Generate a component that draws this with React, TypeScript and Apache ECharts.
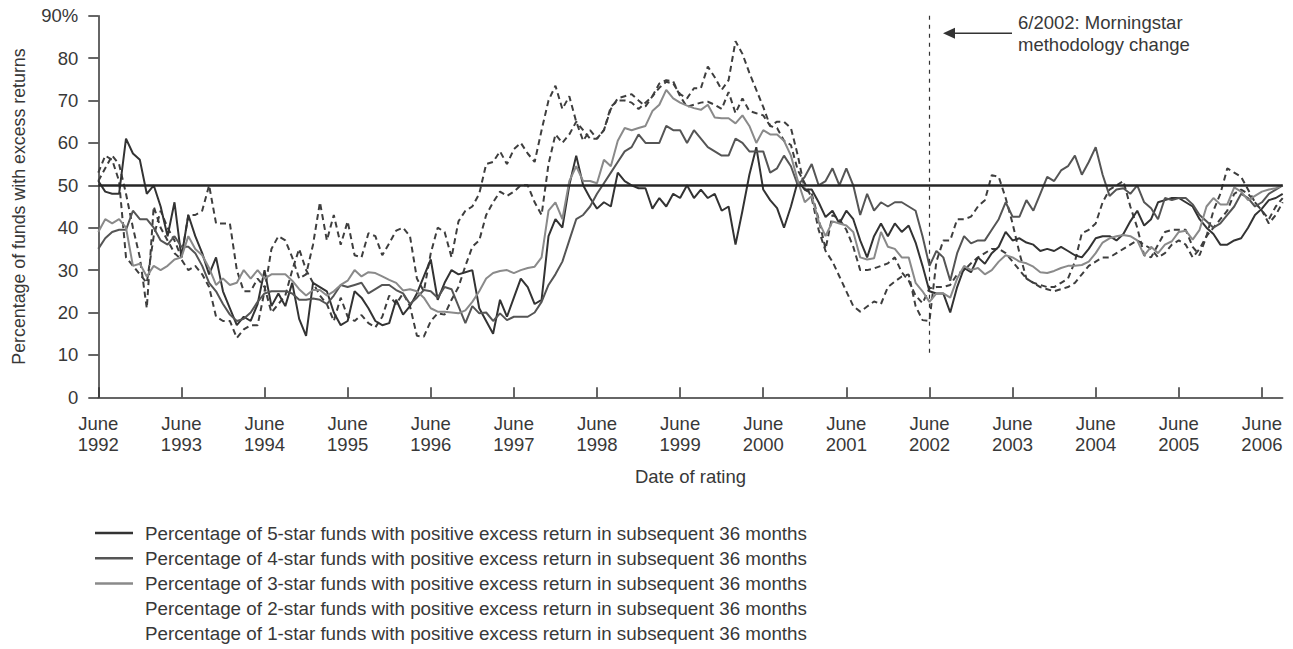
import React, { useEffect, useRef } from "react";
import * as echarts from "echarts";

const FONT = '"Liberation Sans", Arial, sans-serif';
const TEXT = "#383838";

// Monthly ratings, June 1992 .. September 2006 (172 months)
const START_YEAR = 1992;
const START_MONTH = 6;
const MONTH_COUNT = 172;
const months: string[] = Array.from({ length: MONTH_COUNT }, (_, i) => {
  const t = START_MONTH - 1 + i;
  const y = START_YEAR + Math.floor(t / 12);
  const m = (t % 12) + 1;
  return `${y}-${String(m).padStart(2, "0")}`;
});

const seriesNames = [
  "Percentage of 5-star funds with positive excess return in subsequent 36 months",
  "Percentage of 4-star funds with positive excess return in subsequent 36 months",
  "Percentage of 3-star funds with positive excess return in subsequent 36 months",
  "Percentage of 2-star funds with positive excess return in subsequent 36 months",
  "Percentage of 1-star funds with positive excess return in subsequent 36 months",
];

const fiveStar = [
  51, 48.5, 48, 48, 61, 57.5, 56, 48, 50, 45, 38, 46, 33, 43, 38, 34, 29, 33, 25, 21, 17, 19, 18, 22, 30, 21.5, 24.5, 21.5, 27, 18.5,
  14.5, 27, 26, 25, 20, 17, 18, 25, 23.5, 21, 18, 17, 17.5, 23, 19.5, 21.5, 24.5, 28.5, 32.5, 23, 27, 30, 29, 29.5, 30, 21, 18, 15, 23, 19, 23.5, 28, 26, 22,
  23, 38, 42, 40, 50, 57, 50, 47, 44.5, 46, 45, 53, 51, 50, 49.3, 49.3, 44.5, 47, 45, 48, 47, 50, 47, 49, 47, 48, 44, 45, 36, 44, 52.5, 59, 49, 46.5, 44.6,
  40, 45, 51, 49, 49, 46, 42.5, 44, 41, 44, 42, 37, 33, 38, 41, 38, 41, 39, 40.5, 36.5, 31, 25, 24.5, 24.5, 20, 26, 30.5, 29.5, 33, 31.5, 34, 35.5, 39, 37, 37.5,
  36.5, 36, 34.5, 35, 34.5, 35.5, 34.5, 33.5, 33, 35, 37.5, 38, 38, 37, 38.5, 41.5, 44, 40.5, 42, 46, 46.5, 47, 47, 46, 45, 42, 40, 38.5, 36, 36, 37, 37.5, 40, 43, 44.5, 46.5, 47, 48,
];

const fourStar = [
  35, 37.5, 39, 39.5, 39.5, 44, 42, 42, 40, 37, 36, 38, 35.5, 35.5, 34, 31, 27, 25, 22, 19.5, 18, 18.5, 20, 22.5, 24.5, 25, 25, 25, 24.5, 23,
  23, 23.3, 23, 22, 24, 26.5, 26, 26.5, 27, 24.5, 25.5, 26.5, 26.5, 25.3, 24.5, 22, 23.5, 25.3, 25, 23.5, 26, 25.5, 21.5, 17.5, 21.5, 19.8, 20, 18, 19.8, 18.2, 19, 19, 19, 20,
  22.5, 26.5, 29, 32, 37, 42, 43, 45, 48, 50.5, 53, 55.5, 58, 59, 62, 60, 60, 60, 64, 63, 63, 60, 63, 61, 59, 58, 57, 57, 61, 60, 58, 58, 58, 53, 54,
  57, 54.5, 50, 52, 55, 50, 51, 54, 50, 54, 50, 43, 48, 44, 46, 45, 46, 46, 45, 44, 38, 31, 34.5, 33, 27.5, 34, 38, 36.3, 37, 37, 39.5, 42, 46, 42.6, 42.6,
  46.5, 44, 48, 52, 51, 53.5, 54.5, 57, 52.5, 55.5, 59, 52.5, 47.5, 49, 49.3, 48, 50, 46, 44.6, 42, 47, 46.5, 47, 47, 45.5, 43, 41.5, 40, 41, 43, 45, 48, 47, 45, 46, 48, 49, 50,
];

const threeStar = [
  39, 42, 41, 42, 40, 31, 31.5, 28.5, 31, 30, 31, 32.5, 33, 38, 35, 33.5, 30.5, 26.5, 28, 26.5, 27, 30, 28, 30, 28, 29, 29, 29, 27.5, 25.5,
  24, 25.3, 25.3, 24, 25, 26.5, 27.5, 30, 28.5, 29.5, 29.3, 28.5, 27.7, 27, 25.2, 25.5, 25, 23.5, 21, 20.2, 20.2, 20, 19.8, 20.5, 22.5, 25, 28, 29.3, 29.8, 30, 29.3, 30, 30.5, 30.8,
  33, 44, 46, 42, 51, 54.5, 51, 51, 50.5, 56, 54.5, 60.5, 63.5, 63, 63.5, 64, 67.5, 69, 72.5, 70.5, 69.5, 68.8, 68.2, 67.8, 69, 66, 65.8, 65.8, 64.6, 66.5, 64, 60, 63, 62, 62,
  60.5, 57, 51, 46, 47.5, 41.5, 38, 41.5, 41, 40.5, 39, 33, 32.5, 32.8, 39, 35.5, 35, 33, 33, 27, 25, 22.5, 24.5, 24.5, 23.5, 28, 31, 30, 30.5, 29, 30, 32, 33.5, 33, 32,
  31.6, 30.8, 29.5, 29.3, 29.8, 30.5, 31, 31, 31.2, 32, 34, 36.5, 37.5, 38, 38.3, 38, 37, 33.5, 35.5, 34, 36, 36.8, 39, 39.3, 37.2, 39.5, 45, 47, 45.5, 45.5, 49.5, 48.5, 46.5, 47.5, 48.5, 49, 49.3, 50,
];

const twoStar = [
  51, 54, 57, 55, 48, 40, 33, 21, 45, 40, 37, 34, 32.5, 30, 31, 29, 26, 19, 18, 18, 14, 16, 17, 17, 25, 35, 38, 37, 33, 28,
  29, 36, 46, 37, 43, 36, 41.5, 33.5, 33, 38.7, 38, 33.5, 36.3, 39.3, 40, 38, 28, 25, 34, 40, 39, 33, 41.5, 44, 45, 48, 55, 55.5, 58, 55, 58.5, 60, 57.5, 55.5,
  63, 70, 73.5, 68, 71, 65, 60.5, 63, 61, 63, 68, 70.5, 71, 71.5, 70, 68.6, 71, 73, 74.4, 74, 71.5, 70.5, 72.9, 72.9, 78, 75.5, 72.5, 74.8, 84, 81, 76.5, 72.5, 68.5, 64, 63.5,
  60.5, 59.5, 53.5, 50.5, 47, 39.5, 34.5, 32, 28.5, 25, 21.5, 20.2, 21.4, 22.6, 22, 26, 27.3, 28.5, 29, 21.5, 18.2, 18, 32, 37, 37, 42, 42, 42.6, 45, 46.5, 52.4, 52, 47, 41, 34,
  28, 27, 26.5, 26, 26, 27, 28, 32, 38.7, 39.5, 41, 46, 49, 50, 51, 45, 40, 33.5, 33, 36, 39, 39.5, 39.5, 39.5, 35.5, 33.5, 38, 44, 48, 54, 53, 52, 49, 46, 44, 42, 45, 47,
];

const oneStar = [
  53, 57, 56, 51, 33, 31, 29, 27, 38, 44, 40, 37, 33, 43, 43, 44, 50, 41, 41, 41, 30, 25, 25, 28, 26, 20, 22, 24, 30, 35,
  30, 27, 24, 22, 18, 23.5, 19, 18, 19.4, 17.5, 16.5, 19, 24, 22, 24.5, 21.5, 14.5, 14.3, 18, 19.8, 19.5, 23, 26, 31, 35.5, 37, 43, 46, 48.5, 47.5, 48.5, 50, 50, 46,
  43, 55, 62, 60, 62, 65, 63, 61, 61, 63, 68.5, 70, 70, 69.5, 68, 69.5, 71, 74, 74.8, 74.5, 71, 68.5, 69, 69.5, 69.7, 69, 68, 72, 67, 70.5, 67.5, 67, 66.5, 64, 65,
  65, 63.5, 57, 49, 48, 42, 35, 43, 42, 39.5, 35.5, 30, 30, 30.4, 31, 31.6, 33, 29.5, 27.5, 24, 22.2, 25.7, 26, 26, 26.5, 29, 30, 31.6, 33, 34, 35, 35, 34, 32, 30,
  28, 27, 26, 25.5, 25, 25.5, 26, 27, 29, 31, 32, 33, 33, 34, 35, 36, 37, 36, 35, 33, 34, 36, 37, 36, 33, 35, 38, 40, 42, 44, 48, 49, 48, 46, 44, 41, 43, 46,
];

const yTicks = [0, 10, 20, 30, 40, 50, 60, 70, 80, 90];
const referenceLevel = 50;
const methodologyChange = "2002-06";
const annotationText = "6/2002: Morningstar\nmethodology change";

const seriesColors = ["#333333", "#555555", "#8a8a8a", "#3e3e3e", "#3e3e3e"];
const seriesData = [fiveStar, fourStar, threeStar, twoStar, oneStar];

export default function App() {
  const ref = useRef<HTMLDivElement>(null);

  useEffect(() => {
    if (!ref.current) return;
    const chart = echarts.init(ref.current, null, { renderer: "svg" });

    const isJune = (index: number) => index % 12 === 0;

    const lineSeries = seriesNames.map((name, i) => ({
      name,
      type: "line",
      data: seriesData[i],
      symbol: "none",
      showSymbol: false,
      z: i >= 3 ? 2 : 3,
      lineStyle: {
        color: seriesColors[i],
        width: 2,
        type: i >= 3 ? [6, 4] : "solid",
      },
      itemStyle: { color: seriesColors[i] },
    }));

    const option = {
      animation: false,
      backgroundColor: "#ffffff",
      textStyle: { fontFamily: FONT },
      grid: { left: 98.3, right: 10.3, top: 15.7, bottom: 251.7, containLabel: false },
      xAxis: {
        type: "category",
        data: months,
        boundaryGap: false,
        name: "Date of rating",
        nameLocation: "middle",
        nameGap: 70,
        nameTextStyle: { fontSize: 18.5, color: TEXT, fontFamily: FONT },
        axisLine: { show: true, lineStyle: { color: "#333", width: 1.5 } },
        axisTick: {
          show: true,
          inside: true,
          length: 10,
          interval: (index: number) => isJune(index),
          lineStyle: { color: "#333", width: 1.5 },
        },
        axisLabel: {
          interval: (index: number) => isJune(index),
          formatter: (v: string) => `June\n${v.slice(0, 4)}`,
          fontSize: 18.5,
          lineHeight: 21,
          color: TEXT,
          margin: 16,
          fontFamily: FONT,
        },
        splitLine: { show: false },
      },
      yAxis: {
        type: "value",
        min: yTicks[0],
        max: yTicks[yTicks.length - 1],
        interval: 10,
        name: "Percentage of funds with excess returns",
        nameLocation: "middle",
        nameRotate: 90,
        nameGap: 70,
        nameTextStyle: { fontSize: 17.8, color: TEXT, fontFamily: FONT },
        axisLine: { show: true, lineStyle: { color: "#333", width: 1.5 } },
        axisTick: { show: true, inside: false, length: 10, lineStyle: { color: "#333", width: 1.5 } },
        axisLabel: {
          formatter: (v: number) => (v === 90 ? "90%" : String(v)),
          fontSize: 18.5,
          color: TEXT,
          margin: 20,
          fontFamily: FONT,
        },
        splitLine: { show: false },
      },
      legend: {
        orient: "vertical",
        left: 95,
        top: 522.75,
        padding: 0,
        height: 126,
        itemWidth: 38,
        itemHeight: 2.5,
        itemGap: 4.7,
        selectedMode: false,
        textStyle: { fontSize: 18.8, color: TEXT, lineHeight: 20.5, fontFamily: FONT, padding: [0, 0, 0, 7] },
        data: seriesNames.map((name, i) =>
          i >= 3
            ? { name, icon: "rect", itemStyle: { color: "#ffffff", opacity: 0 } }
            : { name, icon: "rect", itemStyle: { color: seriesColors[i] } }
        ),
      },
      series: [
        ...lineSeries,
        {
          name: "reference",
          type: "line",
          data: [],
          z: 5,
          markLine: {
            silent: true,
            symbol: "none",
            label: { show: false },
            data: [
              { yAxis: referenceLevel, lineStyle: { color: "#262626", width: 2.5, type: "solid" } },
              [
                { coord: [methodologyChange, 90], lineStyle: { color: "#333", width: 1.2, type: [4, 5] } },
                { coord: [methodologyChange, 10.4] },
              ],
            ],
          },
        },
      ],
      graphic: [
        {
          type: "line",
          shape: { x1: 953, y1: 33.3, x2: 1012, y2: 33.3 },
          style: { stroke: "#333", lineWidth: 1.5 },
        },
        {
          type: "polygon",
          shape: { points: [[943, 33.3], [955, 27.8], [955, 38.8]] },
          style: { fill: "#333" },
        },
        {
          type: "text",
          x: 1018,
          y: 11,
          style: {
            text: annotationText,
            fontSize: 18.5,
            fontFamily: FONT,
            fill: TEXT,
            lineHeight: 22,
            verticalAlign: "top",
            align: "left",
          },
        },
      ],
    };

    chart.setOption(option as any);
    return () => chart.dispose();
  }, []);

  return (
    <div
      ref={ref}
      style={{ position: "fixed", left: 0, top: 0, width: 1293, height: 649, background: "#fff" }}
    />
  );
}
